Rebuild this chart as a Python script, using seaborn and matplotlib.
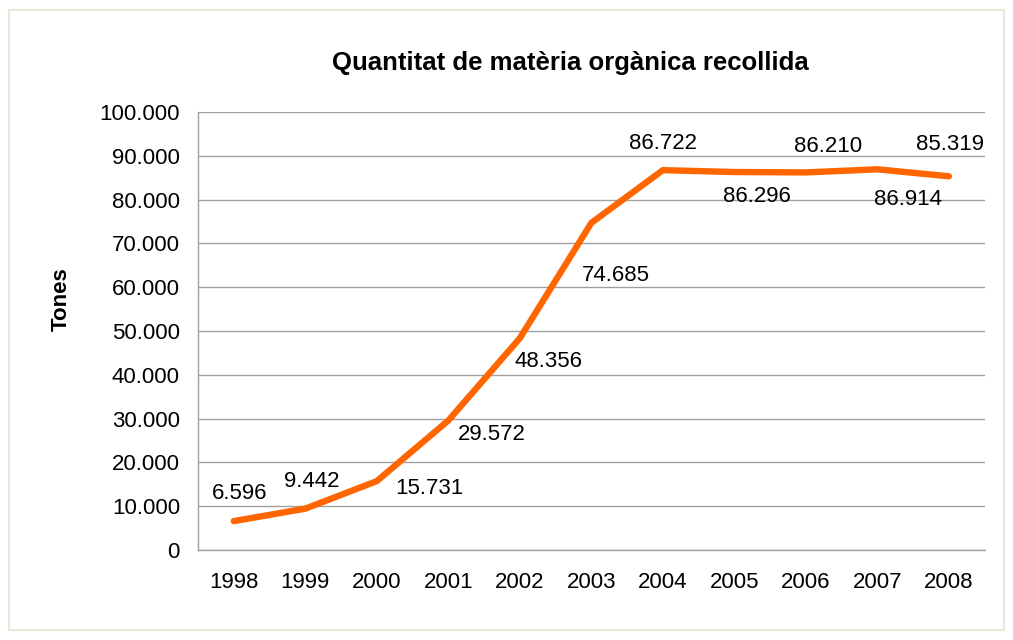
import pandas as pd
import seaborn as sns
import matplotlib.pyplot as plt
from matplotlib.patches import Rectangle
from matplotlib.ticker import FuncFormatter

# data
anys = ["1998", "1999", "2000", "2001", "2002", "2003", "2004", "2005", "2006", "2007", "2008"]
tones = [6596, 9442, 15731, 29572, 48356, 74685, 86722, 86296, 86210, 86914, 85319]
etiquetes = ["6.596", "9.442", "15.731", "29.572", "48.356", "74.685",
             "86.722", "86.296", "86.210", "86.914", "85.319"]
# label offsets in pixels (dx, dy)
desplacaments = [(6, 28), (6, 27), (53, -7), (43, -14), (29, -23), (25, -53),
                 (0, 27), (23, -24), (22, 26), (31, -30), (1, 32)]

df = pd.DataFrame({"Any": anys, "Tones": tones})

sns.set_theme(style="white")
plt.rcParams['font.family'] = ['Liberation Sans', 'DejaVu Sans']
plt.rcParams['text.color'] = 'black'

fig = plt.figure(figsize=(10.13, 6.4), dpi=100)
ax = fig.add_axes([0.1955, 0.1406, 0.7765, 0.6844])

sns.lineplot(data=df, x="Any", y="Tones", color="#FF6600", linewidth=4.6,
             solid_capstyle="round", sort=False, ax=ax)

ax.set_ylim(0, 100000)
ax.set_xlim(-0.5, len(anys) - 0.5)
ax.set_yticks(range(0, 100001, 10000))
ax.yaxis.set_major_formatter(FuncFormatter(lambda v, p: f"{int(v):,}".replace(",", ".")))
ax.grid(axis="y", color="#A0A0A0", linewidth=1)
ax.set_axisbelow(True)
for s in ["top", "right"]:
    ax.spines[s].set_visible(False)
for s in ["left", "bottom"]:
    ax.spines[s].set_color("#A0A0A0")
    ax.spines[s].set_linewidth(1)
ax.tick_params(axis="y", length=0, pad=13, labelsize=16, colors="black")
ax.tick_params(axis="x", length=0, pad=16, labelsize=16, colors="black")
ax.set_xlabel("")
ax.set_ylabel("Tones", fontsize=16, fontweight="bold", color="black")
ax.yaxis.set_label_coords(-0.16, 0.573)

for i, (lab, off) in enumerate(zip(etiquetes, desplacaments)):
    ax.annotate(lab, (i, tones[i]), xytext=off, textcoords="offset pixels",
                ha="center", va="center", fontsize=16)

fig.text(0.563, 0.902, "Quantitat de matèria orgànica recollida",
         ha="center", va="center", fontsize=18.5, fontweight="bold")

fig.patches.append(Rectangle((0.009, 0.016), 0.982, 0.968, transform=fig.transFigure,
                             fill=False, edgecolor="#E8E8D8", linewidth=1.5))

fig.savefig("out.png", dpi=100)
